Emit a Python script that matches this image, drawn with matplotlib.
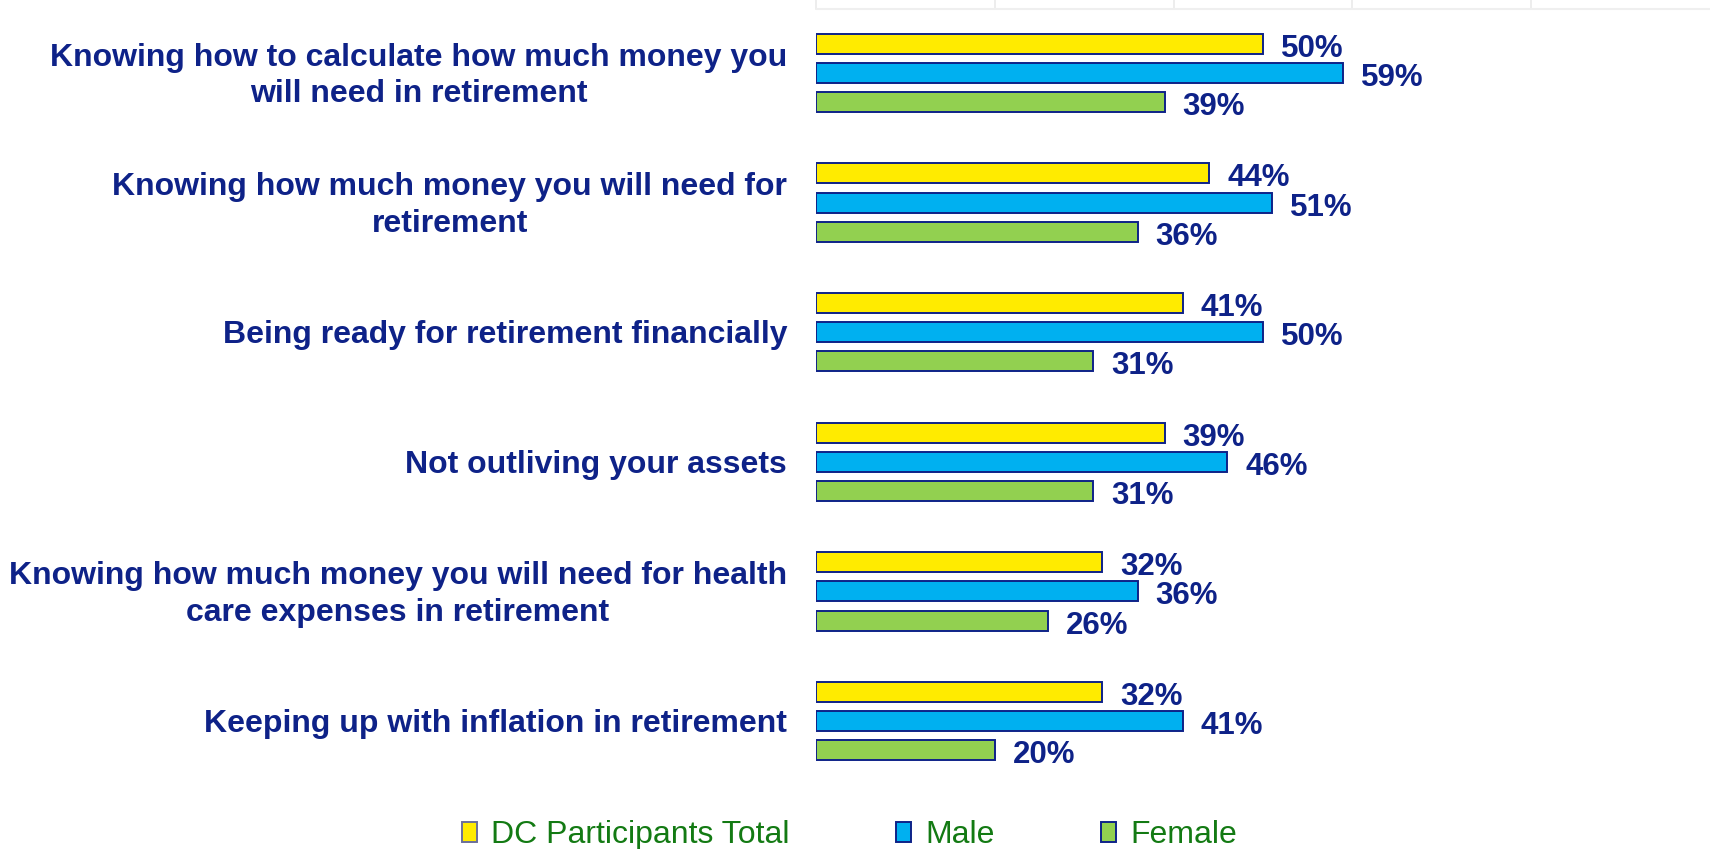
import matplotlib
matplotlib.use("Agg")
import matplotlib.pyplot as plt
from matplotlib.patches import Patch
import numpy as np

categories = [
    "Knowing how to calculate how much money you\nwill need in retirement",
    "Knowing how much money you will need for\nretirement",
    "Being ready for retirement financially",
    "Not outliving your assets",
    "Knowing how much money you will need for health\ncare expenses in retirement",
    "Keeping up with inflation in retirement",
]
series_names = ["DC Participants Total", "Male", "Female"]
dc_total = [50, 44, 41, 39, 32, 32]
male = [59, 51, 50, 46, 36, 41]
female = [39, 36, 31, 31, 26, 20]

colors = ["#FFEB00", "#00B0F0", "#92D050"]
navy = "#0E2288"
legend_green = "#137A13"

plt.rcParams["font.family"] = ["Liberation Sans", "DejaVu Sans"]

W, H = 1710, 849
fig = plt.figure(figsize=(W / 100, H / 100), dpi=100)
x0 = 816
ax = fig.add_axes([x0 / W, 0, 1 - x0 / W, 1])

pitch = 29.2              # pixels per bar slot
group_gap = 129.6 / pitch  # slots between group centres
first = 73 / pitch
ax.set_xlim(0, 100)
ax.set_ylim(H / pitch, 0)

centres = first + group_gap * np.arange(len(categories))
series = [dc_total, male, female]
offsets = [-1, 0, 1]
for vals, off, col in zip(series, offsets, colors):
    ys = centres + off
    ax.barh(ys, vals, height=0.69, color=col, edgecolor=navy, linewidth=1.4)
    for y, v in zip(ys, vals):
        ax.text(v + 2.0, y + 0.17, f"{v}%", va="center", ha="left",
                fontsize=22.5, fontweight="bold", color=navy)

for c, lab in zip(centres, categories):
    fig.text(787 / W, 1 - (c * pitch + 3) / H, lab, ha="right", va="center",
             multialignment="center", fontsize=23, fontweight="bold",
             color=navy, linespacing=1.28)

# faint grid strip along the top edge
xt = ax.get_xaxis_transform()
top = 1 - 9 / H
for gx in [0, 20, 40, 60, 80]:
    ax.plot([gx, gx], [top, 1], transform=xt, color="#EAEAEA", lw=1.2,
            clip_on=False)
ax.plot([0, 100], [top, top], transform=xt, color="#EFEFEF", lw=1.5)

for s in ax.spines.values():
    s.set_visible(False)
ax.set_xticks([])
ax.set_yticks([])

edge_cols = ["#6A6F9A", navy, navy]
handles = [Patch(facecolor=c, edgecolor=e, linewidth=1.4)
           for c, e in zip(colors, edge_cols)]
leg = fig.legend(handles, series_names, loc="center left",
                 bbox_to_anchor=(462 / W, 1 - 835 / H), ncol=3,
                 frameon=False, fontsize=23, handlelength=0.47,
                 handleheight=0.58, handletextpad=0.45, columnspacing=3.33,
                 borderpad=0, borderaxespad=0)
for t in leg.get_texts():
    t.set_color(legend_green)

fig.savefig("out.png", dpi=100)
